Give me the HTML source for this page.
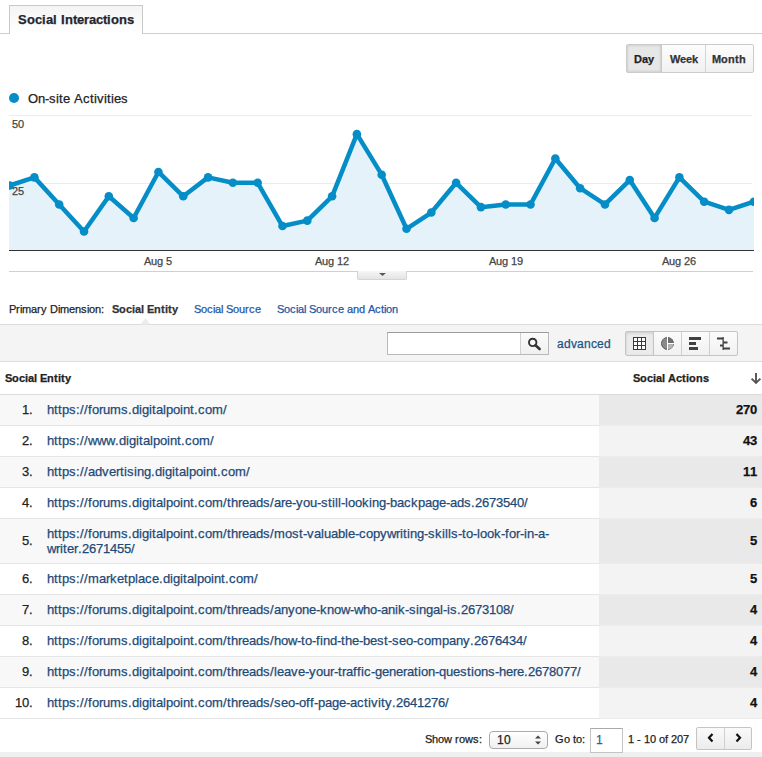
<!DOCTYPE html>
<html><head><meta charset="utf-8">
<style>
*{margin:0;padding:0;box-sizing:border-box}
html,body{width:762px;height:757px;overflow:hidden;background:#fff}
body{position:relative;font-family:"Liberation Sans",sans-serif;color:#222}
.t{position:absolute;white-space:nowrap;line-height:20px;-webkit-text-stroke:0.25px currentColor}
i{display:inline-block;font-style:normal}
.abs{position:absolute}
.w0{width:0px}.w1{width:1px}.w2{width:2px}.w3{width:3px}.w4{width:4px}.w5{width:5px}.w6{width:6px}.w7{width:7px}.w8{width:8px}.w9{width:9px}.w10{width:10px}.w11{width:11px}.w12{width:12px}.w13{width:13px}.w14{width:14px}.w15{width:15px}.w16{width:16px}.w17{width:17px}.w18{width:18px}.w19{width:19px}
</style></head><body>
<div class="abs" style="left:0;top:33px;width:762px;height:1px;background:#cfcfcf"></div>
<div class="abs" style="left:9px;top:5px;width:134px;height:29px;border:1px solid #c9c9c9;border-bottom:none;background:linear-gradient(#f4f4f4,#fbfbfb 60%,#fff)"></div>
<div class=t style="left:18px;top:10px;font-size:13px;font-weight:bold;color:#1f2630;"><i class=w9>S</i><i class=w8>o</i><i class=w7>c</i><i class=w4>i</i><i class=w7>a</i><i class=w4>l</i><i class=w4>&nbsp;</i><i class=w4>I</i><i class=w8>n</i><i class=w4>t</i><i class=w7>e</i><i class=w5>r</i><i class=w7>a</i><i class=w7>c</i><i class=w4>t</i><i class=w4>i</i><i class=w8>o</i><i class=w8>n</i><i class=w7>s</i></div>
<div class="abs" style="left:626px;top:44px;width:128px;height:29px;border:1px solid #cbcbcb;border-radius:2px;background:linear-gradient(#fdfdfd,#f1f1f1);overflow:hidden">
<div class="abs" style="left:0;top:0;width:35px;height:27px;background:#e7e7e7;box-shadow:inset 0 0 3px rgba(0,0,0,.2);border-right:1px solid #c8c8c8"></div>
<div class="abs" style="left:78px;top:0;width:1px;height:27px;background:#d4d4d4"></div>
</div>
<div class=t style="left:634px;top:49px;font-size:11px;font-weight:bold;color:#222;"><i class=w8>D</i><i class=w6>a</i><i class=w6>y</i></div>
<div class=t style="left:670px;top:49px;font-size:11px;font-weight:bold;color:#333;"><i class=w10>W</i><i class=w6>e</i><i class=w6>e</i><i class=w6>k</i></div>
<div class=t style="left:712px;top:49px;font-size:11px;font-weight:bold;color:#333;"><i class=w9>M</i><i class=w7>o</i><i class=w7>n</i><i class=w4>t</i><i class=w7>h</i></div>
<div class="abs" style="left:9px;top:93px;width:10px;height:10px;border-radius:50%;background:#058dc7"></div>
<div class=t style="left:28px;top:89px;font-size:13px;color:#222;"><i class=w10>O</i><i class=w7>n</i><i class=w4>-</i><i class=w7>s</i><i class=w3>i</i><i class=w4>t</i><i class=w7>e</i><i class=w4>&nbsp;</i><i class=w9>A</i><i class=w7>c</i><i class=w4>t</i><i class=w3>i</i><i class=w7>v</i><i class=w3>i</i><i class=w4>t</i><i class=w3>i</i><i class=w7>e</i><i class=w7>s</i></div>
<svg class="abs" style="left:0;top:0" width="762" height="300" viewBox="0 0 762 300">
<defs><clipPath id="c"><rect x="9.0" y="100" width="745.0" height="160"/></clipPath></defs>
<line x1="9.0" y1="115.5" x2="752.5" y2="115.5" stroke="#ececec" stroke-width="1"/>
<line x1="9.0" y1="183.5" x2="752.5" y2="183.5" stroke="#ececec" stroke-width="1"/>
<g clip-path="url(#c)">
<path d="M8.6,250.4 L8.6,185.50400000000002 L9.60,185.50 L34.41,177.39 L59.21,204.43 L84.02,231.47 L108.83,196.32 L133.63,217.95 L158.44,171.98 L183.25,196.32 L208.05,177.39 L232.86,182.80 L257.67,182.80 L282.47,226.06 L307.28,220.66 L332.09,196.32 L356.89,134.13 L381.70,174.69 L406.51,228.77 L431.31,212.54 L456.12,182.80 L480.93,207.14 L505.73,204.43 L530.54,204.43 L555.35,158.46 L580.15,188.21 L604.96,204.43 L629.77,180.10 L654.57,217.95 L679.38,177.39 L704.19,201.73 L728.99,209.84 L753.80,201.73 L754.8,201.728 L754.8,250.4 Z" fill="#e6f2f9"/>
<path d="M9.60,185.50 L34.41,177.39 L59.21,204.43 L84.02,231.47 L108.83,196.32 L133.63,217.95 L158.44,171.98 L183.25,196.32 L208.05,177.39 L232.86,182.80 L257.67,182.80 L282.47,226.06 L307.28,220.66 L332.09,196.32 L356.89,134.13 L381.70,174.69 L406.51,228.77 L431.31,212.54 L456.12,182.80 L480.93,207.14 L505.73,204.43 L530.54,204.43 L555.35,158.46 L580.15,188.21 L604.96,204.43 L629.77,180.10 L654.57,217.95 L679.38,177.39 L704.19,201.73 L728.99,209.84 L753.80,201.73" fill="none" stroke="#058dc7" stroke-width="4.5" stroke-linejoin="round"/>
<g fill="#058dc7"><circle cx="9.60" cy="185.50" r="4.3"/><circle cx="34.41" cy="177.39" r="4.3"/><circle cx="59.21" cy="204.43" r="4.3"/><circle cx="84.02" cy="231.47" r="4.3"/><circle cx="108.83" cy="196.32" r="4.3"/><circle cx="133.63" cy="217.95" r="4.3"/><circle cx="158.44" cy="171.98" r="4.3"/><circle cx="183.25" cy="196.32" r="4.3"/><circle cx="208.05" cy="177.39" r="4.3"/><circle cx="232.86" cy="182.80" r="4.3"/><circle cx="257.67" cy="182.80" r="4.3"/><circle cx="282.47" cy="226.06" r="4.3"/><circle cx="307.28" cy="220.66" r="4.3"/><circle cx="332.09" cy="196.32" r="4.3"/><circle cx="356.89" cy="134.13" r="4.3"/><circle cx="381.70" cy="174.69" r="4.3"/><circle cx="406.51" cy="228.77" r="4.3"/><circle cx="431.31" cy="212.54" r="4.3"/><circle cx="456.12" cy="182.80" r="4.3"/><circle cx="480.93" cy="207.14" r="4.3"/><circle cx="505.73" cy="204.43" r="4.3"/><circle cx="530.54" cy="204.43" r="4.3"/><circle cx="555.35" cy="158.46" r="4.3"/><circle cx="580.15" cy="188.21" r="4.3"/><circle cx="604.96" cy="204.43" r="4.3"/><circle cx="629.77" cy="180.10" r="4.3"/><circle cx="654.57" cy="217.95" r="4.3"/><circle cx="679.38" cy="177.39" r="4.3"/><circle cx="704.19" cy="201.73" r="4.3"/><circle cx="728.99" cy="209.84" r="4.3"/><circle cx="753.80" cy="201.73" r="4.3"/></g>
</g>
<line x1="9.0" y1="250.5" x2="754.0" y2="250.5" stroke="#333" stroke-width="1.2"/>
<line x1="9.0" y1="271.5" x2="753.0" y2="271.5" stroke="#d0d0d0" stroke-width="1"/>
</svg>
<div class=t style="left:12px;top:114px;font-size:11px;color:#444;"><i class=w6>5</i><i class=w6>0</i></div>
<div class=t style="left:12px;top:181px;font-size:11px;color:#444;"><i class=w6>2</i><i class=w6>5</i></div>
<div class=t style="left:144px;top:251px;font-size:11px;color:#444;"><i class=w7>A</i><i class=w6>u</i><i class=w6>g</i><i class=w3>&nbsp;</i><i class=w6>5</i></div>
<div class=t style="left:315px;top:251px;font-size:11px;color:#444;"><i class=w7>A</i><i class=w6>u</i><i class=w6>g</i><i class=w3>&nbsp;</i><i class=w6>1</i><i class=w6>2</i></div>
<div class=t style="left:489px;top:251px;font-size:11px;color:#444;"><i class=w7>A</i><i class=w6>u</i><i class=w6>g</i><i class=w3>&nbsp;</i><i class=w6>1</i><i class=w6>9</i></div>
<div class=t style="left:662px;top:251px;font-size:11px;color:#444;"><i class=w7>A</i><i class=w6>u</i><i class=w6>g</i><i class=w3>&nbsp;</i><i class=w6>2</i><i class=w6>6</i></div>
<div class="abs" style="left:357px;top:271px;width:50px;height:9px;border:1px solid #d4d4d4;border-top:none;border-radius:0 0 2px 2px;background:linear-gradient(#f6f6f6,#e4e4e4)"></div>
<svg class="abs" style="left:378px;top:272px" width="10" height="6"><path d="M1,1 L8,1 L4.5,4 Z" fill="#5a5a5a"/></svg>
<div class=t style="left:9px;top:299px;font-size:11px;color:#222;"><i class=w7>P</i><i class=w4>r</i><i class=w2>i</i><i class=w9>m</i><i class=w6>a</i><i class=w4>r</i><i class=w6>y</i><i class=w3>&nbsp;</i><i class=w8>D</i><i class=w2>i</i><i class=w9>m</i><i class=w6>e</i><i class=w6>n</i><i class=w6>s</i><i class=w2>i</i><i class=w6>o</i><i class=w6>n</i><i class=w3>:</i></div>
<div class=t style="left:112px;top:299px;font-size:11px;font-weight:bold;color:#333;"><i class=w7>S</i><i class=w7>o</i><i class=w6>c</i><i class=w3>i</i><i class=w6>a</i><i class=w3>l</i><i class=w3>&nbsp;</i><i class=w7>E</i><i class=w7>n</i><i class=w4>t</i><i class=w3>i</i><i class=w4>t</i><i class=w6>y</i></div>
<div class=t style="left:194px;top:299px;font-size:11px;color:#2557a5;"><i class=w7>S</i><i class=w6>o</i><i class=w6>c</i><i class=w2>i</i><i class=w6>a</i><i class=w2>l</i><i class=w3>&nbsp;</i><i class=w7>S</i><i class=w6>o</i><i class=w6>u</i><i class=w4>r</i><i class=w6>c</i><i class=w6>e</i></div>
<div class=t style="left:277px;top:299px;font-size:11px;color:#2557a5;"><i class=w7>S</i><i class=w6>o</i><i class=w6>c</i><i class=w2>i</i><i class=w6>a</i><i class=w2>l</i><i class=w3>&nbsp;</i><i class=w7>S</i><i class=w6>o</i><i class=w6>u</i><i class=w4>r</i><i class=w6>c</i><i class=w6>e</i><i class=w3>&nbsp;</i><i class=w6>a</i><i class=w6>n</i><i class=w6>d</i><i class=w3>&nbsp;</i><i class=w7>A</i><i class=w6>c</i><i class=w3>t</i><i class=w2>i</i><i class=w6>o</i><i class=w6>n</i></div>
<div class="abs" style="left:0;top:324px;width:762px;height:38px;background:#f4f4f4;border-top:1px solid #dcdcdc;border-bottom:1px solid #dcdcdc"></div>
<svg class="abs" style="left:138px;top:316px" width="16" height="10"><path d="M3.5,8.5 L7.5,3 L11.5,8.5 Z" fill="#ececec"/><path d="M3,8.6 L7.5,2.8 L12,8.6" fill="none" stroke="#e2e2e2" stroke-width="0.8"/></svg>
<div class="abs" style="left:387px;top:332px;width:162px;height:23px;background:#fff;border:1px solid #b9b9b9;border-top-color:#9a9a9a"></div>
<div class="abs" style="left:520px;top:333px;width:28px;height:21px;background:linear-gradient(#fbfbfb,#f0f0f0);border-left:1px solid #d0d0d0"></div>
<svg class="abs" style="left:527px;top:336px" width="16" height="16" viewBox="0 0 16 16"><circle cx="5.7" cy="6.4" r="3.7" fill="none" stroke="#333" stroke-width="1.9"/><path d="M8.5,9.2 L12.6,13" stroke="#333" stroke-width="2.6" stroke-linecap="round"/></svg>
<div class=t style="left:557px;top:334px;font-size:12px;color:#1c5485;"><i class=w7>a</i><i class=w7>d</i><i class=w6>v</i><i class=w7>a</i><i class=w7>n</i><i class=w6>c</i><i class=w7>e</i><i class=w7>d</i></div>
<div class="abs" style="left:625px;top:331px;width:113px;height:25px;border:1px solid #c4c4c4;border-radius:2px;background:linear-gradient(#fbfbfb,#f1f1f1);overflow:hidden">
<div class="abs" style="left:0;top:0;width:28px;height:23px;background:#ebebeb;box-shadow:inset 0 1px 3px rgba(0,0,0,.15)"></div>
<div class="abs" style="left:27px;top:0;width:1px;height:23px;background:#c4c4c4"></div>
<div class="abs" style="left:55px;top:0;width:1px;height:23px;background:#cfcfcf"></div>
<div class="abs" style="left:83px;top:0;width:1px;height:23px;background:#cfcfcf"></div>
</div>
<svg class="abs" style="left:625px;top:331px" width="113" height="25" viewBox="0 0 113 25">
<g fill="none" stroke="#3a3a3a" stroke-width="1"><rect x="8.5" y="6.5" width="12" height="12" fill="#fff"/><path d="M12.5,6.5 V18.5 M16.5,6.5 V18.5 M8.5,10.5 H20.5 M8.5,14.5 H20.5"/></g>
<circle cx="42.5" cy="12.5" r="6" fill="#8a8a8a" stroke="#5a5a5a" stroke-width="1"/>
<path d="M42.5,12.5 L42.5,6.5 A6,6 0 0 1 48.5,12.5 Z" fill="#6e6e6e"/>
<path d="M42.5,12.5 L48.5,12.5 A6,6 0 0 1 42.5,18.5 Z" fill="#b4b4b4"/>
<path d="M42.5,6 V19 M42.5,12.5 H49" fill="none" stroke="#fff" stroke-width="1"/>
<g fill="#404040"><rect x="64" y="6" width="12" height="3"/><rect x="64" y="11" width="7" height="3"/><rect x="64" y="16" width="9" height="3"/></g>
<g fill="#404040"><rect x="97.5" y="6" width="1.3" height="13"/><rect x="92" y="6.5" width="6" height="2"/><rect x="98" y="10.5" width="4.5" height="2"/><rect x="95" y="13.5" width="3" height="2"/><rect x="98" y="16.5" width="7" height="2"/></g>
</svg>
<div class=t style="left:5px;top:368px;font-size:11px;font-weight:bold;color:#222;"><i class=w7>S</i><i class=w7>o</i><i class=w6>c</i><i class=w3>i</i><i class=w6>a</i><i class=w3>l</i><i class=w3>&nbsp;</i><i class=w7>E</i><i class=w7>n</i><i class=w4>t</i><i class=w3>i</i><i class=w4>t</i><i class=w6>y</i></div>
<div class=t style="left:633px;top:368px;font-size:11px;font-weight:bold;color:#222;"><i class=w7>S</i><i class=w7>o</i><i class=w6>c</i><i class=w3>i</i><i class=w6>a</i><i class=w3>l</i><i class=w3>&nbsp;</i><i class=w8>A</i><i class=w6>c</i><i class=w4>t</i><i class=w3>i</i><i class=w7>o</i><i class=w7>n</i><i class=w6>s</i></div>
<svg class="abs" style="left:750px;top:372px" width="12" height="13" viewBox="0 0 12 13"><path d="M6,1 V10.5 M1.6,6.6 L6,11 L10.4,6.6" fill="none" stroke="#555" stroke-width="1.9"/></svg>
<div class="abs" style="left:0;top:394px;width:762px;height:1px;background:#dcdcdc"></div>
<div class="abs" style="left:0;top:395px;width:599px;height:30px;background:#f8f8f8"></div>
<div class="abs" style="left:599px;top:395px;width:163px;height:30px;background:#e9e9e9"></div>
<div class="abs" style="left:0;top:425px;width:599px;height:1px;background:#e5e5e5"></div>
<div class="abs" style="left:599px;top:425px;width:163px;height:1px;background:#ececec"></div>
<div class=t style="left:47px;top:400px;font-size:13px;color:#1d4a76;"><i class=w7>h</i><i class=w4>t</i><i class=w4>t</i><i class=w7>p</i><i class=w7>s</i><i class=w4>:</i><i class=w4>/</i><i class=w4>/</i><i class=w4>f</i><i class=w7>o</i><i class=w4>r</i><i class=w7>u</i><i class=w11>m</i><i class=w7>s</i><i class=w4>.</i><i class=w7>d</i><i class=w3>i</i><i class=w7>g</i><i class=w3>i</i><i class=w4>t</i><i class=w7>a</i><i class=w3>l</i><i class=w7>p</i><i class=w7>o</i><i class=w3>i</i><i class=w7>n</i><i class=w4>t</i><i class=w4>.</i><i class=w7>c</i><i class=w7>o</i><i class=w11>m</i><i class=w4>/</i></div>
<div class=t style="left:22px;top:400px;font-size:13px;color:#222;"><i class=w7>1</i><i class=w4>.</i></div>
<div class=t style="left:736px;top:400px;font-size:13px;font-weight:bold;color:#111;"><i class=w7>2</i><i class=w7>7</i><i class=w7>0</i></div>
<div class="abs" style="left:0;top:426px;width:599px;height:30px;background:#fff"></div>
<div class="abs" style="left:599px;top:426px;width:163px;height:30px;background:#f3f3f3"></div>
<div class="abs" style="left:0;top:456px;width:599px;height:1px;background:#e5e5e5"></div>
<div class="abs" style="left:599px;top:456px;width:163px;height:1px;background:#ececec"></div>
<div class=t style="left:47px;top:431px;font-size:13px;color:#1d4a76;"><i class=w7>h</i><i class=w4>t</i><i class=w4>t</i><i class=w7>p</i><i class=w7>s</i><i class=w4>:</i><i class=w4>/</i><i class=w4>/</i><i class=w9>w</i><i class=w9>w</i><i class=w9>w</i><i class=w4>.</i><i class=w7>d</i><i class=w3>i</i><i class=w7>g</i><i class=w3>i</i><i class=w4>t</i><i class=w7>a</i><i class=w3>l</i><i class=w7>p</i><i class=w7>o</i><i class=w3>i</i><i class=w7>n</i><i class=w4>t</i><i class=w4>.</i><i class=w7>c</i><i class=w7>o</i><i class=w11>m</i><i class=w4>/</i></div>
<div class=t style="left:22px;top:431px;font-size:13px;color:#222;"><i class=w7>2</i><i class=w4>.</i></div>
<div class=t style="left:743px;top:431px;font-size:13px;font-weight:bold;color:#111;"><i class=w7>4</i><i class=w7>3</i></div>
<div class="abs" style="left:0;top:457px;width:599px;height:30px;background:#f8f8f8"></div>
<div class="abs" style="left:599px;top:457px;width:163px;height:30px;background:#e9e9e9"></div>
<div class="abs" style="left:0;top:487px;width:599px;height:1px;background:#e5e5e5"></div>
<div class="abs" style="left:599px;top:487px;width:163px;height:1px;background:#ececec"></div>
<div class=t style="left:47px;top:462px;font-size:13px;color:#1d4a76;"><i class=w7>h</i><i class=w4>t</i><i class=w4>t</i><i class=w7>p</i><i class=w7>s</i><i class=w4>:</i><i class=w4>/</i><i class=w4>/</i><i class=w7>a</i><i class=w7>d</i><i class=w7>v</i><i class=w7>e</i><i class=w4>r</i><i class=w4>t</i><i class=w3>i</i><i class=w7>s</i><i class=w3>i</i><i class=w7>n</i><i class=w7>g</i><i class=w4>.</i><i class=w7>d</i><i class=w3>i</i><i class=w7>g</i><i class=w3>i</i><i class=w4>t</i><i class=w7>a</i><i class=w3>l</i><i class=w7>p</i><i class=w7>o</i><i class=w3>i</i><i class=w7>n</i><i class=w4>t</i><i class=w4>.</i><i class=w7>c</i><i class=w7>o</i><i class=w11>m</i><i class=w4>/</i></div>
<div class=t style="left:22px;top:462px;font-size:13px;color:#222;"><i class=w7>3</i><i class=w4>.</i></div>
<div class=t style="left:743px;top:462px;font-size:13px;font-weight:bold;color:#111;"><i class=w7>1</i><i class=w7>1</i></div>
<div class="abs" style="left:0;top:488px;width:599px;height:30px;background:#fff"></div>
<div class="abs" style="left:599px;top:488px;width:163px;height:30px;background:#f3f3f3"></div>
<div class="abs" style="left:0;top:518px;width:599px;height:1px;background:#e5e5e5"></div>
<div class="abs" style="left:599px;top:518px;width:163px;height:1px;background:#ececec"></div>
<div class=t style="left:47px;top:493px;font-size:13px;color:#1d4a76;"><i class=w7>h</i><i class=w4>t</i><i class=w4>t</i><i class=w7>p</i><i class=w7>s</i><i class=w4>:</i><i class=w4>/</i><i class=w4>/</i><i class=w4>f</i><i class=w7>o</i><i class=w4>r</i><i class=w7>u</i><i class=w11>m</i><i class=w7>s</i><i class=w4>.</i><i class=w7>d</i><i class=w3>i</i><i class=w7>g</i><i class=w3>i</i><i class=w4>t</i><i class=w7>a</i><i class=w3>l</i><i class=w7>p</i><i class=w7>o</i><i class=w3>i</i><i class=w7>n</i><i class=w4>t</i><i class=w4>.</i><i class=w7>c</i><i class=w7>o</i><i class=w11>m</i><i class=w4>/</i><i class=w4>t</i><i class=w7>h</i><i class=w4>r</i><i class=w7>e</i><i class=w7>a</i><i class=w7>d</i><i class=w7>s</i><i class=w4>/</i><i class=w7>a</i><i class=w4>r</i><i class=w7>e</i><i class=w4>-</i><i class=w7>y</i><i class=w7>o</i><i class=w7>u</i><i class=w4>-</i><i class=w7>s</i><i class=w4>t</i><i class=w3>i</i><i class=w3>l</i><i class=w3>l</i><i class=w4>-</i><i class=w3>l</i><i class=w7>o</i><i class=w7>o</i><i class=w7>k</i><i class=w3>i</i><i class=w7>n</i><i class=w7>g</i><i class=w4>-</i><i class=w7>b</i><i class=w7>a</i><i class=w7>c</i><i class=w7>k</i><i class=w7>p</i><i class=w7>a</i><i class=w7>g</i><i class=w7>e</i><i class=w4>-</i><i class=w7>a</i><i class=w7>d</i><i class=w7>s</i><i class=w4>.</i><i class=w7>2</i><i class=w7>6</i><i class=w7>7</i><i class=w7>3</i><i class=w7>5</i><i class=w7>4</i><i class=w7>0</i><i class=w4>/</i></div>
<div class=t style="left:22px;top:493px;font-size:13px;color:#222;"><i class=w7>4</i><i class=w4>.</i></div>
<div class=t style="left:750px;top:493px;font-size:13px;font-weight:bold;color:#111;"><i class=w7>6</i></div>
<div class="abs" style="left:0;top:519px;width:599px;height:44px;background:#f8f8f8"></div>
<div class="abs" style="left:599px;top:519px;width:163px;height:44px;background:#e9e9e9"></div>
<div class="abs" style="left:0;top:563px;width:599px;height:1px;background:#e5e5e5"></div>
<div class="abs" style="left:599px;top:563px;width:163px;height:1px;background:#ececec"></div>
<div class=t style="left:47px;top:524px;font-size:13px;color:#1d4a76;"><i class=w7>h</i><i class=w4>t</i><i class=w4>t</i><i class=w7>p</i><i class=w7>s</i><i class=w4>:</i><i class=w4>/</i><i class=w4>/</i><i class=w4>f</i><i class=w7>o</i><i class=w4>r</i><i class=w7>u</i><i class=w11>m</i><i class=w7>s</i><i class=w4>.</i><i class=w7>d</i><i class=w3>i</i><i class=w7>g</i><i class=w3>i</i><i class=w4>t</i><i class=w7>a</i><i class=w3>l</i><i class=w7>p</i><i class=w7>o</i><i class=w3>i</i><i class=w7>n</i><i class=w4>t</i><i class=w4>.</i><i class=w7>c</i><i class=w7>o</i><i class=w11>m</i><i class=w4>/</i><i class=w4>t</i><i class=w7>h</i><i class=w4>r</i><i class=w7>e</i><i class=w7>a</i><i class=w7>d</i><i class=w7>s</i><i class=w4>/</i><i class=w11>m</i><i class=w7>o</i><i class=w7>s</i><i class=w4>t</i><i class=w4>-</i><i class=w7>v</i><i class=w7>a</i><i class=w3>l</i><i class=w7>u</i><i class=w7>a</i><i class=w7>b</i><i class=w3>l</i><i class=w7>e</i><i class=w4>-</i><i class=w7>c</i><i class=w7>o</i><i class=w7>p</i><i class=w7>y</i><i class=w9>w</i><i class=w4>r</i><i class=w3>i</i><i class=w4>t</i><i class=w3>i</i><i class=w7>n</i><i class=w7>g</i><i class=w4>-</i><i class=w7>s</i><i class=w7>k</i><i class=w3>i</i><i class=w3>l</i><i class=w3>l</i><i class=w7>s</i><i class=w4>-</i><i class=w4>t</i><i class=w7>o</i><i class=w4>-</i><i class=w3>l</i><i class=w7>o</i><i class=w7>o</i><i class=w7>k</i><i class=w4>-</i><i class=w4>f</i><i class=w7>o</i><i class=w4>r</i><i class=w4>-</i><i class=w3>i</i><i class=w7>n</i><i class=w4>-</i><i class=w7>a</i><i class=w4>-</i></div>
<div class=t style="left:47px;top:539px;font-size:13px;color:#1d4a76;"><i class=w9>w</i><i class=w4>r</i><i class=w3>i</i><i class=w4>t</i><i class=w7>e</i><i class=w4>r</i><i class=w4>.</i><i class=w7>2</i><i class=w7>6</i><i class=w7>7</i><i class=w7>1</i><i class=w7>4</i><i class=w7>5</i><i class=w7>5</i><i class=w4>/</i></div>
<div class=t style="left:22px;top:531px;font-size:13px;color:#222;"><i class=w7>5</i><i class=w4>.</i></div>
<div class=t style="left:750px;top:531px;font-size:13px;font-weight:bold;color:#111;"><i class=w7>5</i></div>
<div class="abs" style="left:0;top:564px;width:599px;height:30px;background:#fff"></div>
<div class="abs" style="left:599px;top:564px;width:163px;height:30px;background:#f3f3f3"></div>
<div class="abs" style="left:0;top:594px;width:599px;height:1px;background:#e5e5e5"></div>
<div class="abs" style="left:599px;top:594px;width:163px;height:1px;background:#ececec"></div>
<div class=t style="left:47px;top:569px;font-size:13px;color:#1d4a76;"><i class=w7>h</i><i class=w4>t</i><i class=w4>t</i><i class=w7>p</i><i class=w7>s</i><i class=w4>:</i><i class=w4>/</i><i class=w4>/</i><i class=w11>m</i><i class=w7>a</i><i class=w4>r</i><i class=w7>k</i><i class=w7>e</i><i class=w4>t</i><i class=w7>p</i><i class=w3>l</i><i class=w7>a</i><i class=w7>c</i><i class=w7>e</i><i class=w4>.</i><i class=w7>d</i><i class=w3>i</i><i class=w7>g</i><i class=w3>i</i><i class=w4>t</i><i class=w7>a</i><i class=w3>l</i><i class=w7>p</i><i class=w7>o</i><i class=w3>i</i><i class=w7>n</i><i class=w4>t</i><i class=w4>.</i><i class=w7>c</i><i class=w7>o</i><i class=w11>m</i><i class=w4>/</i></div>
<div class=t style="left:22px;top:569px;font-size:13px;color:#222;"><i class=w7>6</i><i class=w4>.</i></div>
<div class=t style="left:750px;top:569px;font-size:13px;font-weight:bold;color:#111;"><i class=w7>5</i></div>
<div class="abs" style="left:0;top:595px;width:599px;height:30px;background:#f8f8f8"></div>
<div class="abs" style="left:599px;top:595px;width:163px;height:30px;background:#e9e9e9"></div>
<div class="abs" style="left:0;top:625px;width:599px;height:1px;background:#e5e5e5"></div>
<div class="abs" style="left:599px;top:625px;width:163px;height:1px;background:#ececec"></div>
<div class=t style="left:47px;top:600px;font-size:13px;color:#1d4a76;"><i class=w7>h</i><i class=w4>t</i><i class=w4>t</i><i class=w7>p</i><i class=w7>s</i><i class=w4>:</i><i class=w4>/</i><i class=w4>/</i><i class=w4>f</i><i class=w7>o</i><i class=w4>r</i><i class=w7>u</i><i class=w11>m</i><i class=w7>s</i><i class=w4>.</i><i class=w7>d</i><i class=w3>i</i><i class=w7>g</i><i class=w3>i</i><i class=w4>t</i><i class=w7>a</i><i class=w3>l</i><i class=w7>p</i><i class=w7>o</i><i class=w3>i</i><i class=w7>n</i><i class=w4>t</i><i class=w4>.</i><i class=w7>c</i><i class=w7>o</i><i class=w11>m</i><i class=w4>/</i><i class=w4>t</i><i class=w7>h</i><i class=w4>r</i><i class=w7>e</i><i class=w7>a</i><i class=w7>d</i><i class=w7>s</i><i class=w4>/</i><i class=w7>a</i><i class=w7>n</i><i class=w7>y</i><i class=w7>o</i><i class=w7>n</i><i class=w7>e</i><i class=w4>-</i><i class=w7>k</i><i class=w7>n</i><i class=w7>o</i><i class=w9>w</i><i class=w4>-</i><i class=w9>w</i><i class=w7>h</i><i class=w7>o</i><i class=w4>-</i><i class=w7>a</i><i class=w7>n</i><i class=w3>i</i><i class=w7>k</i><i class=w4>-</i><i class=w7>s</i><i class=w3>i</i><i class=w7>n</i><i class=w7>g</i><i class=w7>a</i><i class=w3>l</i><i class=w4>-</i><i class=w3>i</i><i class=w7>s</i><i class=w4>.</i><i class=w7>2</i><i class=w7>6</i><i class=w7>7</i><i class=w7>3</i><i class=w7>1</i><i class=w7>0</i><i class=w7>8</i><i class=w4>/</i></div>
<div class=t style="left:22px;top:600px;font-size:13px;color:#222;"><i class=w7>7</i><i class=w4>.</i></div>
<div class=t style="left:750px;top:600px;font-size:13px;font-weight:bold;color:#111;"><i class=w7>4</i></div>
<div class="abs" style="left:0;top:626px;width:599px;height:30px;background:#fff"></div>
<div class="abs" style="left:599px;top:626px;width:163px;height:30px;background:#f3f3f3"></div>
<div class="abs" style="left:0;top:656px;width:599px;height:1px;background:#e5e5e5"></div>
<div class="abs" style="left:599px;top:656px;width:163px;height:1px;background:#ececec"></div>
<div class=t style="left:47px;top:631px;font-size:13px;color:#1d4a76;"><i class=w7>h</i><i class=w4>t</i><i class=w4>t</i><i class=w7>p</i><i class=w7>s</i><i class=w4>:</i><i class=w4>/</i><i class=w4>/</i><i class=w4>f</i><i class=w7>o</i><i class=w4>r</i><i class=w7>u</i><i class=w11>m</i><i class=w7>s</i><i class=w4>.</i><i class=w7>d</i><i class=w3>i</i><i class=w7>g</i><i class=w3>i</i><i class=w4>t</i><i class=w7>a</i><i class=w3>l</i><i class=w7>p</i><i class=w7>o</i><i class=w3>i</i><i class=w7>n</i><i class=w4>t</i><i class=w4>.</i><i class=w7>c</i><i class=w7>o</i><i class=w11>m</i><i class=w4>/</i><i class=w4>t</i><i class=w7>h</i><i class=w4>r</i><i class=w7>e</i><i class=w7>a</i><i class=w7>d</i><i class=w7>s</i><i class=w4>/</i><i class=w7>h</i><i class=w7>o</i><i class=w9>w</i><i class=w4>-</i><i class=w4>t</i><i class=w7>o</i><i class=w4>-</i><i class=w4>f</i><i class=w3>i</i><i class=w7>n</i><i class=w7>d</i><i class=w4>-</i><i class=w4>t</i><i class=w7>h</i><i class=w7>e</i><i class=w4>-</i><i class=w7>b</i><i class=w7>e</i><i class=w7>s</i><i class=w4>t</i><i class=w4>-</i><i class=w7>s</i><i class=w7>e</i><i class=w7>o</i><i class=w4>-</i><i class=w7>c</i><i class=w7>o</i><i class=w11>m</i><i class=w7>p</i><i class=w7>a</i><i class=w7>n</i><i class=w7>y</i><i class=w4>.</i><i class=w7>2</i><i class=w7>6</i><i class=w7>7</i><i class=w7>6</i><i class=w7>4</i><i class=w7>3</i><i class=w7>4</i><i class=w4>/</i></div>
<div class=t style="left:22px;top:631px;font-size:13px;color:#222;"><i class=w7>8</i><i class=w4>.</i></div>
<div class=t style="left:750px;top:631px;font-size:13px;font-weight:bold;color:#111;"><i class=w7>4</i></div>
<div class="abs" style="left:0;top:657px;width:599px;height:30px;background:#f8f8f8"></div>
<div class="abs" style="left:599px;top:657px;width:163px;height:30px;background:#e9e9e9"></div>
<div class="abs" style="left:0;top:687px;width:599px;height:1px;background:#e5e5e5"></div>
<div class="abs" style="left:599px;top:687px;width:163px;height:1px;background:#ececec"></div>
<div class=t style="left:47px;top:662px;font-size:13px;color:#1d4a76;"><i class=w7>h</i><i class=w4>t</i><i class=w4>t</i><i class=w7>p</i><i class=w7>s</i><i class=w4>:</i><i class=w4>/</i><i class=w4>/</i><i class=w4>f</i><i class=w7>o</i><i class=w4>r</i><i class=w7>u</i><i class=w11>m</i><i class=w7>s</i><i class=w4>.</i><i class=w7>d</i><i class=w3>i</i><i class=w7>g</i><i class=w3>i</i><i class=w4>t</i><i class=w7>a</i><i class=w3>l</i><i class=w7>p</i><i class=w7>o</i><i class=w3>i</i><i class=w7>n</i><i class=w4>t</i><i class=w4>.</i><i class=w7>c</i><i class=w7>o</i><i class=w11>m</i><i class=w4>/</i><i class=w4>t</i><i class=w7>h</i><i class=w4>r</i><i class=w7>e</i><i class=w7>a</i><i class=w7>d</i><i class=w7>s</i><i class=w4>/</i><i class=w3>l</i><i class=w7>e</i><i class=w7>a</i><i class=w7>v</i><i class=w7>e</i><i class=w4>-</i><i class=w7>y</i><i class=w7>o</i><i class=w7>u</i><i class=w4>r</i><i class=w4>-</i><i class=w4>t</i><i class=w4>r</i><i class=w7>a</i><i class=w4>f</i><i class=w4>f</i><i class=w3>i</i><i class=w7>c</i><i class=w4>-</i><i class=w7>g</i><i class=w7>e</i><i class=w7>n</i><i class=w7>e</i><i class=w4>r</i><i class=w7>a</i><i class=w4>t</i><i class=w3>i</i><i class=w7>o</i><i class=w7>n</i><i class=w4>-</i><i class=w7>q</i><i class=w7>u</i><i class=w7>e</i><i class=w7>s</i><i class=w4>t</i><i class=w3>i</i><i class=w7>o</i><i class=w7>n</i><i class=w7>s</i><i class=w4>-</i><i class=w7>h</i><i class=w7>e</i><i class=w4>r</i><i class=w7>e</i><i class=w4>.</i><i class=w7>2</i><i class=w7>6</i><i class=w7>7</i><i class=w7>8</i><i class=w7>0</i><i class=w7>7</i><i class=w7>7</i><i class=w4>/</i></div>
<div class=t style="left:22px;top:662px;font-size:13px;color:#222;"><i class=w7>9</i><i class=w4>.</i></div>
<div class=t style="left:750px;top:662px;font-size:13px;font-weight:bold;color:#111;"><i class=w7>4</i></div>
<div class="abs" style="left:0;top:688px;width:599px;height:30px;background:#fff"></div>
<div class="abs" style="left:599px;top:688px;width:163px;height:30px;background:#f3f3f3"></div>
<div class="abs" style="left:0;top:718px;width:599px;height:1px;background:#e5e5e5"></div>
<div class="abs" style="left:599px;top:718px;width:163px;height:1px;background:#ececec"></div>
<div class=t style="left:47px;top:693px;font-size:13px;color:#1d4a76;"><i class=w7>h</i><i class=w4>t</i><i class=w4>t</i><i class=w7>p</i><i class=w7>s</i><i class=w4>:</i><i class=w4>/</i><i class=w4>/</i><i class=w4>f</i><i class=w7>o</i><i class=w4>r</i><i class=w7>u</i><i class=w11>m</i><i class=w7>s</i><i class=w4>.</i><i class=w7>d</i><i class=w3>i</i><i class=w7>g</i><i class=w3>i</i><i class=w4>t</i><i class=w7>a</i><i class=w3>l</i><i class=w7>p</i><i class=w7>o</i><i class=w3>i</i><i class=w7>n</i><i class=w4>t</i><i class=w4>.</i><i class=w7>c</i><i class=w7>o</i><i class=w11>m</i><i class=w4>/</i><i class=w4>t</i><i class=w7>h</i><i class=w4>r</i><i class=w7>e</i><i class=w7>a</i><i class=w7>d</i><i class=w7>s</i><i class=w4>/</i><i class=w7>s</i><i class=w7>e</i><i class=w7>o</i><i class=w4>-</i><i class=w7>o</i><i class=w4>f</i><i class=w4>f</i><i class=w4>-</i><i class=w7>p</i><i class=w7>a</i><i class=w7>g</i><i class=w7>e</i><i class=w4>-</i><i class=w7>a</i><i class=w7>c</i><i class=w4>t</i><i class=w3>i</i><i class=w7>v</i><i class=w3>i</i><i class=w4>t</i><i class=w7>y</i><i class=w4>.</i><i class=w7>2</i><i class=w7>6</i><i class=w7>4</i><i class=w7>1</i><i class=w7>2</i><i class=w7>7</i><i class=w7>6</i><i class=w4>/</i></div>
<div class=t style="left:15px;top:693px;font-size:13px;color:#222;"><i class=w7>1</i><i class=w7>0</i><i class=w4>.</i></div>
<div class=t style="left:750px;top:693px;font-size:13px;font-weight:bold;color:#111;"><i class=w7>4</i></div>
<div class="abs" style="left:0;top:752px;width:762px;height:5px;background:#efefef"></div>
<div class=t style="left:425px;top:729px;font-size:11px;color:#222;"><i class=w7>S</i><i class=w6>h</i><i class=w6>o</i><i class=w8>w</i><i class=w3>&nbsp;</i><i class=w4>r</i><i class=w6>o</i><i class=w8>w</i><i class=w6>s</i><i class=w3>:</i></div>
<div class="abs" style="left:489px;top:731px;width:59px;height:18px;border:1px solid #aaa;border-radius:4px;background:linear-gradient(#fff,#f0f0f0)"></div>
<svg class="abs" style="left:534px;top:734px" width="8" height="12"><path d="M1,4.5 L4,1.5 L7,4.5 Z M1,7.5 L4,10.5 L7,7.5 Z" fill="#444"/></svg>
<div class=t style="left:497px;top:730px;font-size:12px;color:#222;"><i class=w7>1</i><i class=w7>0</i></div>
<div class=t style="left:555px;top:729px;font-size:11px;color:#222;"><i class=w9>G</i><i class=w6>o</i><i class=w3>&nbsp;</i><i class=w3>t</i><i class=w6>o</i><i class=w3>:</i></div>
<div class="abs" style="left:590px;top:728px;width:33px;height:25px;border:1px solid #c4c4c4;border-top-color:#a9a9a9;background:#fff"></div>
<div class=t style="left:596px;top:730px;font-size:12px;color:#1d6a8a;"><i class=w7>1</i></div>
<div class=t style="left:628px;top:729px;font-size:11px;color:#222;"><i class=w6>1</i><i class=w3>&nbsp;</i><i class=w4>-</i><i class=w3>&nbsp;</i><i class=w6>1</i><i class=w6>0</i><i class=w3>&nbsp;</i><i class=w6>o</i><i class=w3>f</i><i class=w3>&nbsp;</i><i class=w6>2</i><i class=w6>0</i><i class=w6>7</i></div>
<div class="abs" style="left:696px;top:727px;width:56px;height:23px;border:1px solid #c4c4c4;border-radius:2px;background:linear-gradient(#fafafa,#ececec)"></div>
<div class="abs" style="left:724px;top:728px;width:1px;height:21px;background:#cfcfcf"></div>
<svg class="abs" style="left:696px;top:727px" width="56" height="23"><path d="M16.5,7 L13,10.8 L16.5,14.6 M40.5,7 L44,10.8 L40.5,14.6" fill="none" stroke="#111" stroke-width="2.2"/></svg>
</body></html>
